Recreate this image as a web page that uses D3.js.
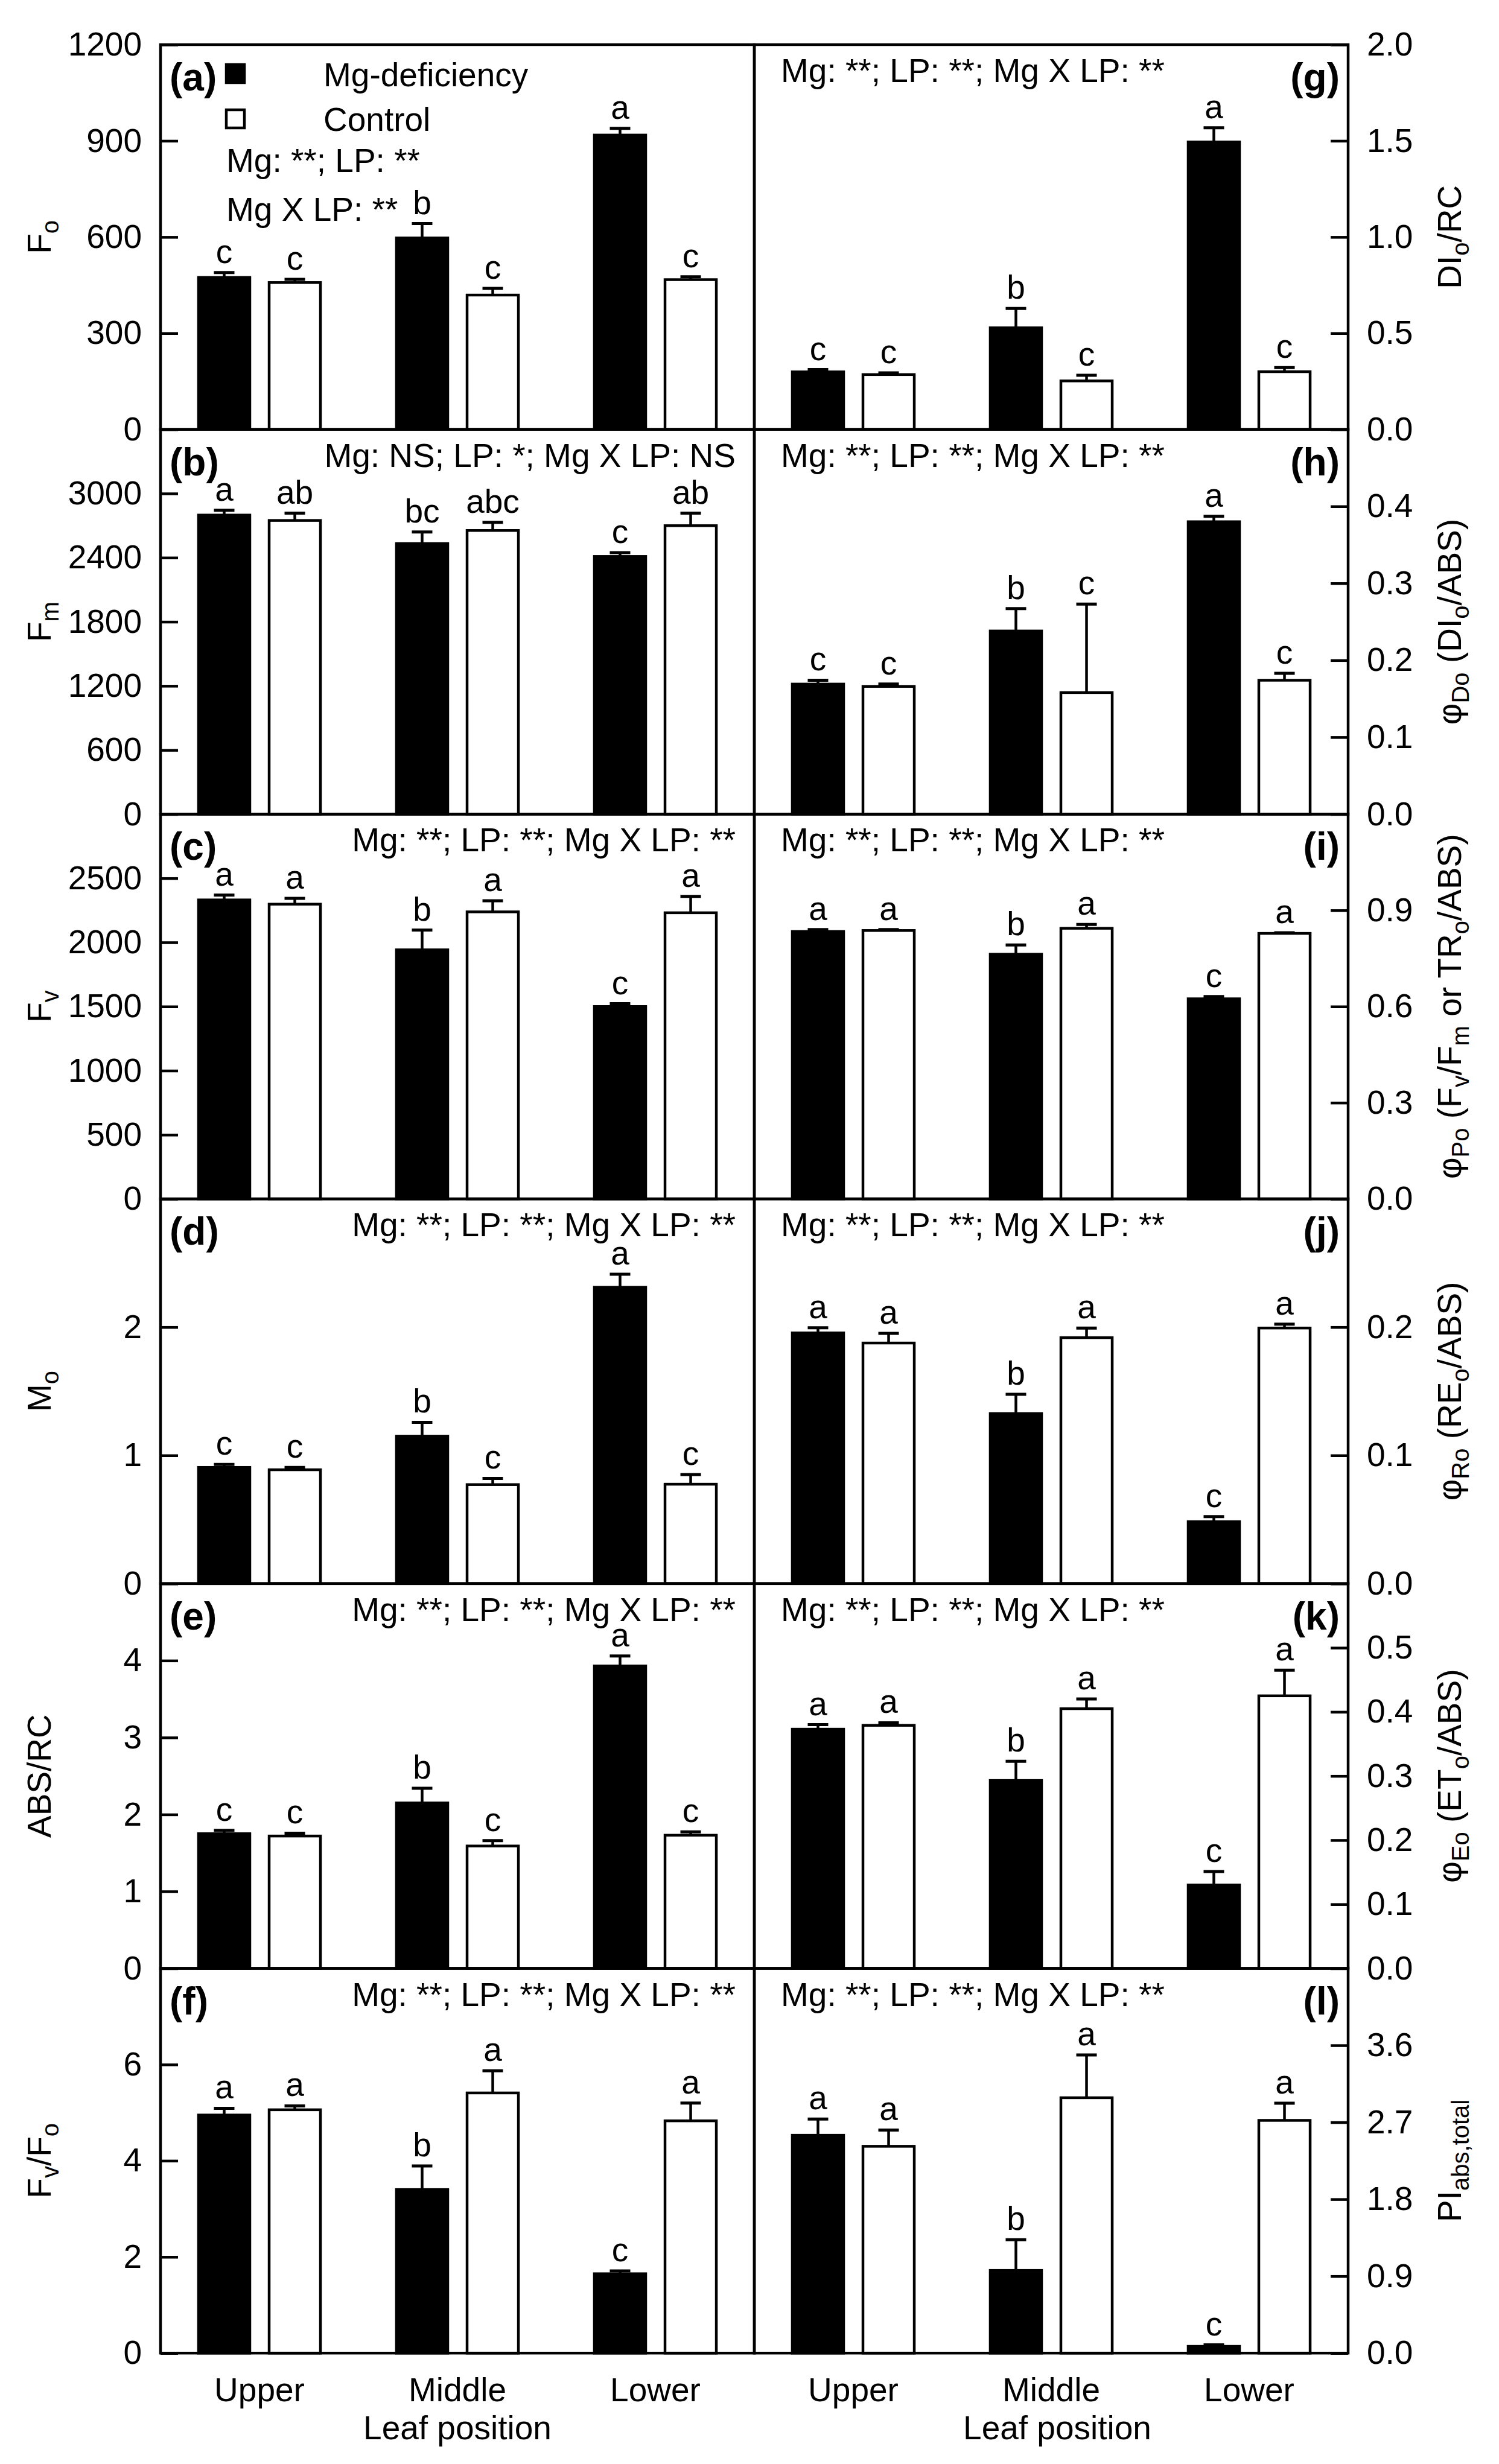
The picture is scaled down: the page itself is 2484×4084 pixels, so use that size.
<!DOCTYPE html>
<html>
<head>
<meta charset="utf-8">
<script src="https://cdn.jsdelivr.net/npm/d3@7"></script>
<style>
  body { margin: 0; background: #fff; }
  text { font-family: "Liberation Sans", Arial, sans-serif; }
</style>
</head>
<body>
<div id="chart"></div>
<script>
// ---- data ----
var categories = ["Upper", "Middle", "Lower"];
var series = ["Mg-deficiency", "Control"];
var panelNames = ["a", "b", "c", "d", "e", "f", "g", "h", "i", "j", "k", "l"];

// means, one small array per panel (Upper, Middle, Lower)
var mgMean = [
  [474, 597, 918],
  [2798, 2532, 2411],
  [2331, 1942, 1500],
  [0.906, 1.15, 2.311],
  [1.75, 2.15, 3.93],
  [4.95, 3.40, 1.65],
  [0.299, 0.528, 1.494],
  [0.169, 0.238, 0.380],
  [0.834, 0.763, 0.624],
  [0.1955, 0.1326, 0.0483],
  [0.373, 0.293, 0.130],
  [2.548, 0.967, 0.079]
];
var mgSE = [
  [15, 45, 21],
  [45, 108, 36],
  [38, 154, 22],
  [0.023, 0.108, 0.101],
  [0.044, 0.19, 0.13],
  [0.14, 0.49, 0.06],
  [0.012, 0.101, 0.074],
  [0.005, 0.029, 0.007],
  [0.006, 0.029, 0.007],
  [0.004, 0.015, 0.004],
  [0.007, 0.030, 0.021],
  [0.19, 0.36, 0.017]
];
var ctrlMean = [
  [458, 419, 467],
  [2748, 2654, 2699],
  [2298, 2238, 2231],
  [0.888, 0.772, 0.775],
  [1.72, 1.59, 1.73],
  [5.06, 5.41, 4.83],
  [0.285, 0.252, 0.300],
  [0.166, 0.158, 0.174],
  [0.837, 0.844, 0.828],
  [0.1876, 0.1918, 0.1993],
  [0.379, 0.405, 0.425],
  [2.419, 2.987, 2.722]
];
var ctrlSE = [
  [10, 21, 9],
  [68, 76, 117],
  [45, 86, 127],
  [0.018, 0.048, 0.075],
  [0.037, 0.07, 0.044],
  [0.08, 0.46, 0.37],
  [0.009, 0.029, 0.021],
  [0.003, 0.115, 0.009],
  [0.003, 0.012, 0.002],
  [0.0075, 0.0075, 0.003],
  [0.004, 0.015, 0.040],
  [0.19, 0.50, 0.20]
];
var mgLetters = [
  ["c","b","a"], ["a","bc","c"], ["a","b","c"], ["c","b","a"], ["c","b","a"], ["a","b","c"],
  ["c","b","a"], ["c","b","a"], ["a","b","c"], ["a","b","c"], ["a","b","c"], ["a","b","c"]
];
var ctrlLetters = [
  ["c","c","c"], ["ab","abc","ab"], ["a","a","a"], ["c","c","c"], ["c","c","c"], ["a","a","a"],
  ["c","c","c"], ["c","c","c"], ["a","a","a"], ["a","a","a"], ["a","a","a"], ["a","a","a"]
];

// y axes
var yMax = [1200, 3600, 3000, 3, 5, 8, 2, 0.5, 1.2, 0.3, 0.6, 4.5];
var yTicks = [
  [0, 300, 600, 900, 1200],
  [0, 600, 1200, 1800, 2400, 3000],
  [0, 500, 1000, 1500, 2000, 2500],
  [0, 1, 2],
  [0, 1, 2, 3, 4],
  [0, 2, 4, 6],
  [0, 0.5, 1.0, 1.5, 2.0],
  [0, 0.1, 0.2, 0.3, 0.4],
  [0, 0.3, 0.6, 0.9],
  [0, 0.1, 0.2],
  [0, 0.1, 0.2, 0.3, 0.4, 0.5],
  [0, 0.9, 1.8, 2.7, 3.6]
];
// y labels as [text, subscript?] pieces
var yLabels = [
  [["F",0],["o",1]],
  [["F",0],["m",1]],
  [["F",0],["v",1]],
  [["M",0],["o",1]],
  [["ABS/RC",0]],
  [["F",0],["v",1],["/F",0],["o",1]],
  [["DI",0],["o",1],["/RC",0]],
  [["φ",0],["Do",1],[" (DI",0],["o",1],["/ABS)",0]],
  [["φ",0],["Po",1],[" (F",0],["v",1],["/F",0],["m",1],[" or TR",0],["o",1],["/ABS)",0]],
  [["φ",0],["Ro",1],[" (RE",0],["o",1],["/ABS)",0]],
  [["φ",0],["Eo",1],[" (ET",0],["o",1],["/ABS)",0]],
  [["PI",0],["abs,total",1]]
];
var allStars = "Mg: **; LP: **; Mg X LP: **";
var statsText = ["", "Mg: NS; LP: *; Mg X LP: NS", allStars, allStars, allStars, allStars,
                 allStars, allStars, allStars, allStars, allStars, allStars];
var statsA = ["Mg: **; LP: **", "Mg X LP: **"];
var xTitle = "Leaf position";

// ---- layout ----
var W = 2484, H = 4084;
var leftX = 266, midX = 1250, rightX = 2234;
var topY = 74, rowH = 637.7;
var fs = 55, subFs = 40;
var fontFam = '"Liberation Sans", Arial, sans-serif';

var svg = d3.select("#chart").append("svg")
    .attr("width", W)
    .attr("height", H)

svg.append("rect").attr("width", W).attr("height", H).attr("fill", "#fff")

panelNames.forEach(function (p, i) {
  var col = i < 6 ? 0 : 1,
      row = i % 6
  var x0 = col ? midX : leftX,
      x1 = col ? rightX : midX
  var y0 = topY + row * rowH,
      y1 = y0 + rowH

  var x = d3.scaleBand().domain(categories).range([x0, x1])
  var xs = d3.scaleBand().domain(series).range([0, x.bandwidth()])
      .paddingInner(0.2735).paddingOuter(0.538)
  var y = d3.scaleLinear().domain([0, yMax[i]]).range([y1, y0])

  var g = svg.append("g")

  var bars = []
  categories.forEach(function (c, k) {
    bars.push({ cat: c, s: series[0], v: mgMean[i][k], e: mgSE[i][k], l: mgLetters[i][k] })
    bars.push({ cat: c, s: series[1], v: ctrlMean[i][k], e: ctrlSE[i][k], l: ctrlLetters[i][k] })
  })
  function cx(d) { return x(d.cat) + xs(d.s) + xs.bandwidth() / 2 }

  // error bars first, bars drawn over them
  g.selectAll(".err").data(bars).enter().append("line")
    .attr("x1", cx).attr("x2", cx)
    .attr("y1", function (d) { return y(d.v) }).attr("y2", function (d) { return y(d.v + d.e) })
    .attr("stroke", "#000").attr("stroke-width", 4.5)
  g.selectAll(".cap").data(bars).enter().append("line")
    .attr("x1", function (d) { return cx(d) - 17 }).attr("x2", function (d) { return cx(d) + 17 })
    .attr("y1", function (d) { return y(d.v + d.e) }).attr("y2", function (d) { return y(d.v + d.e) })
    .attr("stroke", "#000").attr("stroke-width", 5)

  g.selectAll(".bar").data(bars).enter().append("rect")
    .attr("x", function (d) { return x(d.cat) + xs(d.s) })
    .attr("width", xs.bandwidth())
    .attr("y", function (d) { return y(d.v) })
    .attr("height", function (d) { return y1 - y(d.v) })
    .attr("fill", function (d) { return d.s === series[0] ? "#000" : "#fff" })
    .attr("stroke", "#000").attr("stroke-width", 4.5)

  // significance letters
  g.selectAll(".let").data(bars).enter().append("text")
    .attr("x", cx)
    .attr("y", function (d) { return y(d.v + d.e) - 16 })
    .attr("text-anchor", "middle").attr("font-size", fs)
    .text(function (d) { return d.l })

  // y axis with inward ticks
  var ticks = yTicks[i].filter(function (t) { return row === 0 || t < yMax[i] })
  var axis = (col ? d3.axisRight(y) : d3.axisLeft(y))
    .tickValues(ticks).tickSizeInner(-29).tickSizeOuter(0).tickPadding(31)
    .tickFormat(col ? d3.format(".1f") : d3.format("d"))
  var ag = g.append("g")
    .attr("transform", "translate(" + (col ? x1 : x0) + ",0)")
    .call(axis)
  ag.select(".domain").remove()
  ag.selectAll("line").attr("stroke-width", 4.5)
  ag.selectAll("text").attr("font-size", fs).attr("font-family", fontFam)

  // frame
  g.append("rect")
    .attr("x", x0).attr("y", y0).attr("width", x1 - x0).attr("height", rowH)
    .attr("fill", "none").attr("stroke", "#000").attr("stroke-width", 4.5)

  // panel tag
  g.append("text")
    .attr("x", col ? x1 - 14 : x0 + 15)
    .attr("y", y0 + 76)
    .attr("text-anchor", col ? "end" : "start")
    .attr("font-size", 64).attr("font-weight", "bold")
    .text("(" + p + ")")

  // ANOVA summary
  if (statsText[i]) {
    g.append("text")
      .attr("x", col ? x0 + 44 : x1 - 31)
      .attr("y", y0 + 62)
      .attr("text-anchor", col ? "start" : "end")
      .attr("font-size", fs)
      .text(statsText[i])
  }

  // y title, rotated
  var lab = g.append("text")
    .attr("transform", "translate(" + (col ? 2421 : 84) + "," + ((y0 + y1) / 2) + ") rotate(-90)")
    .attr("text-anchor", "middle")
    .attr("font-size", fs)
  yLabels[i].forEach(function (seg, k) {
    var prevSub = k > 0 && yLabels[i][k - 1][1]
    var dy = seg[1] ? 13 : (prevSub ? -13 : 0)
    lab.append("tspan")
      .attr("dy", dy)
      .attr("font-size", seg[1] ? subFs : fs)
      .text(seg[0])
  })

  // x axis only on the bottom row
  if (row === 5) {
    var xg = g.append("g")
      .attr("transform", "translate(0," + y1 + ")")
      .call(d3.axisBottom(x).tickSize(0).tickPadding(41))
    xg.select(".domain").remove()
    xg.selectAll("text").attr("font-size", fs).attr("font-family", fontFam)
    g.append("text")
      .attr("x", (x0 + x1) / 2 + (col ? 10 : 0))
      .attr("y", 4043)
      .attr("text-anchor", "middle")
      .attr("font-size", fs)
      .text(xTitle)
  }

  // legend lives in panel (a)
  if (i === 0) {
    series.forEach(function (s, k) {
      g.append("rect")
        .attr("x", 375).attr("y", 107 + k * 75).attr("width", 30).attr("height", 30)
        .attr("fill", k === 0 ? "#000" : "#fff")
        .attr("stroke", "#000").attr("stroke-width", 4.5)
      g.append("text")
        .attr("x", 536).attr("y", 143 + k * 74)
        .attr("font-size", fs)
        .text(s)
    })
    statsA.forEach(function (t, k) {
      g.append("text")
        .attr("x", 375).attr("y", 285 + k * 81)
        .attr("font-size", fs)
        .text(t)
    })
  }
})
</script>
</body>
</html>
